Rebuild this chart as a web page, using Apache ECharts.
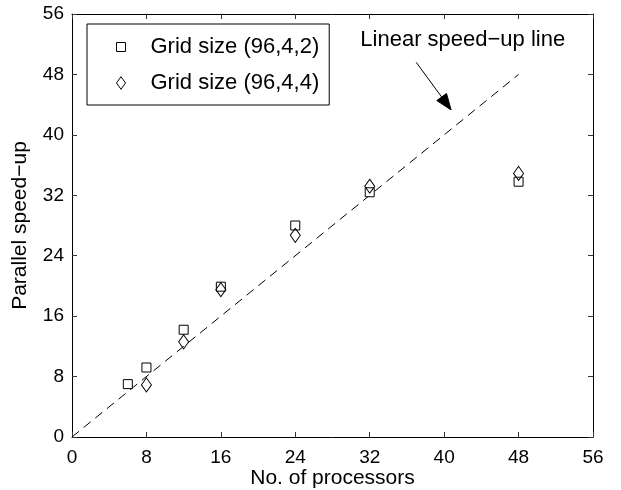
<!DOCTYPE html>
<html>
<head>
<meta charset="utf-8">
<script src="https://cdn.jsdelivr.net/npm/echarts@6/dist/echarts.min.js"></script>
<style>
  html, body { margin: 0; padding: 0; background: #fff; }
  #chart { width: 621px; height: 490px; }
</style>
</head>
<body>
<div id="chart"></div>
<script>
// Processor counts and measured speed-ups for the two grid sizes
const procs422 = [6, 8, 12, 16, 24, 32, 48];
const speedup422 = [7.0, 9.2, 14.2, 19.9, 28.0, 32.4, 33.8];
const procs444 = [8, 12, 16, 24, 32, 48];
const speedup444 = [6.9, 12.6, 19.5, 26.7, 33.2, 34.9];
// Ideal (linear) speed-up reference line
const linearX = [0, 48];
const linearY = [0, 48];
const tickValues = [0, 8, 16, 24, 32, 40, 48, 56];
const seriesNames = ['Grid size (96,4,2)', 'Grid size (96,4,4)'];
const annotationText = 'Linear speed\u2212up line';

const FONT = '"Liberation Sans", Arial, Helvetica, sans-serif';
const INK = '#000';

const pairs = (xs, ys) => xs.map((x, i) => [x, ys[i]]);

const chart = echarts.init(document.getElementById('chart'), null, { renderer: 'canvas' });

const baseAxis = {
  min: tickValues[0],
  max: tickValues[tickValues.length - 1],
  interval: 8,
  splitLine: { show: false },
  axisLine: { show: true, onZero: false, lineStyle: { color: INK, width: 1 } },
  axisTick: { show: true, inside: true, length: 5, lineStyle: { color: '#333', width: 1 } }
};

const squarePath = 'path://M0,0L10,0L10,10L0,10Z';
const diamondPath = 'path://M5,0L10,7L5,14L0,7Z';

chart.setOption({
  animation: false,
  backgroundColor: '#fff',
  textStyle: { fontFamily: FONT },
  grid: { left: 72, right: 28, top: 14, bottom: 53, containLabel: false, outerBoundsMode: 'none' },
  legend: {
    orient: 'vertical',
    left: 87,
    top: 24,
    padding: [12, 10, 11, 29],
    itemGap: 14,
    itemWidth: 9,
    itemHeight: 13,
    borderColor: INK,
    borderWidth: 1,
    backgroundColor: '#fff',
    selectedMode: false,
    itemStyle: { color: '#fff', borderColor: INK, borderWidth: 1 },
    textStyle: { fontFamily: FONT, fontSize: 22, color: INK, lineHeight: 22, padding: [0, 0, 0, 20] },
    data: [
      { name: seriesNames[0], icon: squarePath },
      { name: seriesNames[1], icon: diamondPath }
    ]
  },
  xAxis: [
    Object.assign({}, baseAxis, {
      type: 'value',
      position: 'bottom',
      name: 'No. of processors',
      nameLocation: 'middle',
      nameGap: 31,
      nameMoveOverlap: false,
      nameTextStyle: { fontFamily: FONT, fontSize: 21, color: INK },
      axisLabel: { fontFamily: FONT, fontSize: 19, color: INK, margin: 11 }
    }),
    Object.assign({}, baseAxis, {
      type: 'value',
      position: 'top',
      axisLabel: { show: false }
    })
  ],
  yAxis: [
    Object.assign({}, baseAxis, {
      type: 'value',
      position: 'left',
      name: 'Parallel speed\u2212up',
      nameLocation: 'middle',
      nameGap: 41,
      nameMoveOverlap: false,
      nameTextStyle: { fontFamily: FONT, fontSize: 21, color: INK },
      axisLabel: { fontFamily: FONT, fontSize: 19, color: INK, margin: 8 }
    }),
    Object.assign({}, baseAxis, {
      type: 'value',
      position: 'right',
      axisLabel: { show: false }
    })
  ],
  series: [
    {
      name: 'linear',
      type: 'line',
      data: pairs(linearX, linearY),
      symbol: 'none',
      silent: true,
      lineStyle: { color: INK, width: 1, type: [9, 6] },
      z: 1
    },
    {
      name: seriesNames[0],
      type: 'scatter',
      data: pairs(procs422, speedup422),
      symbol: squarePath,
      symbolSize: [9, 9],
      itemStyle: { color: '#fff', borderColor: INK, borderWidth: 1, opacity: 1 },
      z: 3
    },
    {
      name: seriesNames[1],
      type: 'scatter',
      data: pairs(procs444, speedup444),
      symbol: diamondPath,
      symbolSize: [10, 14],
      itemStyle: { color: 'rgba(255,255,255,0)', borderColor: INK, borderWidth: 1, opacity: 1 },
      z: 4
    }
  ]
});

// Annotation: label and arrow pointing at the linear reference line,
// anchored in data coordinates.
function px(pt) { return chart.convertToPixel({ gridIndex: 0 }, pt); }
const labelPos = px([42.0, 52.6]);
const arrowStart = px([37.0, 49.6]);
const arrowTip = px([40.75, 43.3]);

const dx = arrowTip[0] - arrowStart[0];
const dy = arrowTip[1] - arrowStart[1];
const len = Math.sqrt(dx * dx + dy * dy);
const ux = dx / len, uy = dy / len;
const headLen = 16, headHalf = 6;
const base = [arrowTip[0] - ux * headLen, arrowTip[1] - uy * headLen];
const left = [base[0] - uy * headHalf, base[1] + ux * headHalf];
const right = [base[0] + uy * headHalf, base[1] - ux * headHalf];

chart.setOption({
  graphic: [
    {
      type: 'text',
      x: labelPos[0],
      y: labelPos[1],
      style: {
        text: annotationText,
        fontFamily: FONT,
        fontSize: 22,
        fill: INK,
        align: 'center',
        verticalAlign: 'middle'
      },
      z: 10
    },
    {
      type: 'line',
      shape: { x1: arrowStart[0], y1: arrowStart[1], x2: base[0], y2: base[1] },
      style: { stroke: INK, lineWidth: 1 },
      z: 10
    },
    {
      type: 'polygon',
      shape: { points: [arrowTip, left, right] },
      style: { fill: INK, stroke: INK, lineWidth: 1 },
      z: 10
    }
  ]
});
</script>
</body>
</html>
